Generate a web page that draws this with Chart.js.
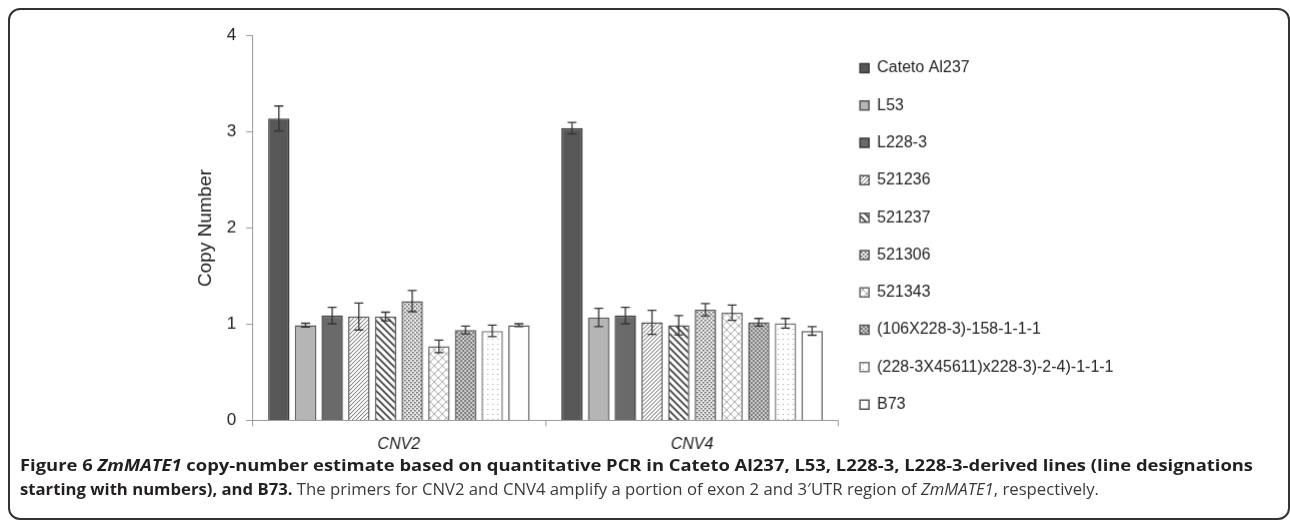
<!DOCTYPE html>
<html>
<head>
<meta charset="utf-8">
<title>ZmMATE1 copy number</title>
<script src="https://cdn.jsdelivr.net/npm/chart.js@4.4.1/dist/chart.umd.min.js"></script>
<style>
    body { margin: 0; background: #fff; width: 1290px; height: 522px; overflow: hidden; position: relative; font-family: "Liberation Sans", Arial, sans-serif; }
    #frame { position: absolute; left: 8px; top: 8px; width: 1282px; height: 512px; border: 2px solid #333; border-radius: 12px; box-sizing: border-box; }
    #chart-box { position: absolute; left: 190px; top: 1.4px; width: 932.5px; height: 465.6px; }
    #caption { position: absolute; left: 20px; top: 453px; font-family: "Open Sans", sans-serif; font-size: 16px; line-height: 24px; color: #231f20; }
    .line { white-space: nowrap; height: 24px; }
    .line span.fit { display: inline-block; transform-origin: left center; }
    .reg { color: #3a3a3a; }
</style>
</head>
<body>
<div id="frame"></div>
<div id="chart-box"><canvas id="chart"></canvas></div>
<div id="caption">
    <div class="line"><span class="fit"><b>Figure 6 <i>ZmMATE1</i> copy-number estimate based on quantitative PCR in Cateto Al237, L53, L228-3, L228-3-derived lines (line designations</b></span></div>
    <div class="line"><span class="fit"><b>starting with numbers), and B73.</b> <span class="reg">The primers for CNV2 and CNV4 amplify a portion of exon 2 and 3′UTR region of <i>ZmMATE1</i>, respectively.</span></span></div>
</div>

<script>
    // Data
    const categories = ['CNV2', 'CNV4'];
    const lineNames = ['Cateto Al237', 'L53', 'L228-3', '521236', '521237', '521306', '521343',
        '(106X228-3)-158-1-1-1', '(228-3X45611)x228-3)-2-4)-1-1-1', 'B73'];
    const cnv2Means  = [3.14, 0.99, 1.09, 1.08, 1.08, 1.24, 0.77, 0.94, 0.93, 0.99];
    const cnv2Errors = [0.13, 0.02, 0.085, 0.14, 0.045, 0.11, 0.065, 0.04, 0.06, 0.015];
    const cnv4Means  = [3.04, 1.07, 1.09, 1.02, 0.99, 1.15, 1.12, 1.02, 1.01, 0.93];
    const cnv4Errors = [0.06, 0.095, 0.085, 0.125, 0.10, 0.065, 0.08, 0.04, 0.05, 0.045];
    const yTicks = [0, 1, 2, 3, 4];

    const canvas = document.getElementById('chart');
    const mainCtx = canvas.getContext('2d');
    const font = '"Liberation Sans", Arial, sans-serif';

    // small tile -> repeating fill
    function makePattern(size, bg, draw) {
        const c = document.createElement('canvas');
        c.width = c.height = size;
        const g = c.getContext('2d');
        g.fillStyle = bg;
        g.fillRect(0, 0, size, size);
        draw(g, size);
        return mainCtx.createPattern(c, 'repeat');
    }
    function lines(g, segs, color, width) {
        g.strokeStyle = color;
        g.lineWidth = width;
        g.beginPath();
        segs.forEach(s => { g.moveTo(s[0], s[1]); g.lineTo(s[2], s[3]); });
        g.stroke();
    }

    const hatchFwd = makePattern(4, '#fff', (g, s) =>
        lines(g, [[0, s, s, 0], [-1, 1, 1, -1], [s - 1, s + 1, s + 1, s - 1]], '#666', 1));
    const hatchBack = makePattern(7, '#fff', (g, s) =>
        lines(g, [[0, 0, s, s], [-2, s - 2, 2, s + 2], [s - 2, -2, s + 2, 2]], '#444', 1.8));
    const denseDots = makePattern(4, '#ececec', g => {
        g.fillStyle = '#555';
        g.fillRect(0, 0, 1.5, 1.5);
        g.fillRect(2, 2, 1.5, 1.5);
    });
    const diamonds = makePattern(8, '#fff', (g, s) =>
        lines(g, [[0, 0, s, s], [0, s, s, 0]], '#aaa', 1));
    const checker = makePattern(4, '#d2d2d2', g => {
        g.fillStyle = '#7a7a7a';
        g.fillRect(0, 0, 2, 2);
        g.fillRect(2, 2, 2, 2);
    });
    const sparseDots = makePattern(5, '#fff', g => {
        g.fillStyle = '#9a9a9a';
        g.fillRect(2, 2, 1, 1);
    });

    const fills = ['#575757', '#b5b5b5', '#6a6a6a', hatchFwd, hatchBack, denseDots, diamonds, checker, sparseDots, '#fff'];
    const borders = ['#3a3a3a', '#555', '#3a3a3a', '#555', '#555', '#555', '#666', '#555', '#777', '#555'];

    const datasets = lineNames.map((name, i) => ({
        label: name,
        data: [cnv2Means[i], cnv4Means[i]],
        errors: [cnv2Errors[i], cnv4Errors[i]],
        backgroundColor: fills[i],
        borderColor: borders[i],
        borderWidth: 1.5,
        barPercentage: 0.8,
        categoryPercentage: 0.91
    }));

    // error bars drawn through the y scale
    const errorBars = {
        id: 'errorBars',
        afterDatasetsDraw(chart) {
            const ctx = chart.ctx;
            const y = chart.scales.y;
            ctx.save();
            ctx.strokeStyle = '#333';
            ctx.lineWidth = 1.3;
            chart.data.datasets.forEach((ds, i) => {
                chart.getDatasetMeta(i).data.forEach((bar, j) => {
                    const v = ds.data[j], e = ds.errors[j];
                    const top = y.getPixelForValue(v + e);
                    const bot = y.getPixelForValue(v - e);
                    ctx.beginPath();
                    ctx.moveTo(bar.x, top); ctx.lineTo(bar.x, bot);
                    ctx.moveTo(bar.x - 4.5, top); ctx.lineTo(bar.x + 4.5, top);
                    ctx.moveTo(bar.x - 4.5, bot); ctx.lineTo(bar.x + 4.5, bot);
                    ctx.stroke();
                });
            });
            ctx.restore();
        }
    };

    new Chart(canvas, {
        type: 'bar',
        data: { labels: categories, datasets: datasets },
        plugins: [errorBars],
        options: {
            responsive: true,
            maintainAspectRatio: false,
            animation: false,
            layout: { padding: { top: 8, bottom: 4 } },
            plugins: {
                legend: {
                    position: 'right',
                    align: 'center',
                    maxWidth: 400,
                    labels: {
                        boxWidth: 9,
                        boxHeight: 9,
                        padding: 21.3,
                        color: '#222',
                        font: { size: 16, family: font }
                    }
                },
                tooltip: { enabled: false }
            },
            scales: {
                x: {
                    grid: { drawOnChartArea: false, tickLength: 6, color: '#999' },
                    border: { color: '#999' },
                    ticks: { padding: 9, color: '#222', font: { size: 16, style: 'italic', family: font } }
                },
                y: {
                    min: yTicks[0],
                    max: yTicks[yTicks.length - 1],
                    afterBuildTicks: axis => { axis.ticks = yTicks.map(v => ({ value: v })); },
                    grid: { drawOnChartArea: false, tickLength: 6, color: '#999' },
                    border: { color: '#999' },
                    ticks: { padding: 10, color: '#222', font: { size: 17, family: font, lineHeight: 2.91 } },
                    title: {
                        display: true,
                        text: 'Copy Number',
                        color: '#222',
                        font: { size: 19, family: font },
                        padding: { top: 4, bottom: 0 }
                    }
                }
            }
        }
    });

    // stretch caption lines to the widths in the figure
    const captionWidths = [1233, 1079];
    document.querySelectorAll('.line span.fit').forEach((el, i) => {
        const w = el.getBoundingClientRect().width;
        el.style.transform = 'scaleX(' + (captionWidths[i] / w) + ')';
    });
</script>
</body>
</html>
